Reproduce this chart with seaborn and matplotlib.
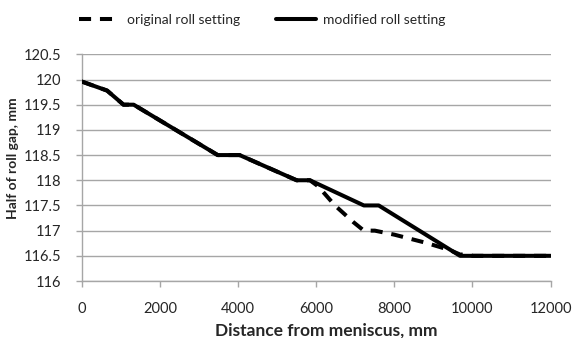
import seaborn as sns
import numpy as np
import pandas as pd
import matplotlib.pyplot as plt

orig_x = [0, 650, 1070, 1330, 3480, 4040, 5500, 5840, 6050, 6480, 6950, 7220, 7500, 8000, 8800, 9400, 9700, 9830, 10000, 12000]
orig_y = [119.96, 119.78, 119.5, 119.5, 118.5, 118.5, 118.0, 118.0, 117.88, 117.5, 117.17, 117.0, 117.0, 116.92, 116.76, 116.62, 116.52, 116.55, 116.5, 116.5]
mod_x = [0, 650, 1070, 1330, 3480, 4040, 5500, 5840, 7220, 7600, 9680, 12000]
mod_y = [119.96, 119.78, 119.5, 119.5, 118.5, 118.5, 118.0, 118.0, 117.5, 117.5, 116.5, 116.5]

df_orig = pd.DataFrame({'d': orig_x, 'gap': orig_y})
df_mod = pd.DataFrame({'d': mod_x, 'gap': mod_y})

sns.set_style('white')
plt.rcParams['font.family'] = ['Lato', 'DejaVu Sans']

fig = plt.figure(figsize=(5.73, 3.38), dpi=100)
ax = fig.add_axes([0.1426, 0.1686, 0.8184, 0.6707])

sns.lineplot(data=df_orig, x='d', y='gap', ax=ax, color='black', lw=2.9,
             linestyle=(0, (3, 2.2)), label='original roll setting', zorder=3)
sns.lineplot(data=df_mod, x='d', y='gap', ax=ax, color='black', lw=2.9,
             label='modified roll setting', zorder=4)

ax.set_xlim(0, 12000)
ax.set_ylim(116, 120.5)
ax.set_xticks(np.arange(0, 12001, 2000))
ax.set_yticks(np.arange(116, 120.51, 0.5))
ax.set_yticklabels(['116', '116.5', '117', '117.5', '118', '118.5', '119', '119.5', '120', '120.5'])
ax.yaxis.grid(True, color='#a6a6a6', lw=1)
ax.xaxis.grid(False)
for s in ['top', 'right']:
    ax.spines[s].set_visible(False)
for s in ['left', 'bottom']:
    ax.spines[s].set_color('#a6a6a6')
    ax.spines[s].set_linewidth(1)
ax.tick_params(axis='both', which='major', length=4, width=1, color='#a6a6a6',
               direction='out', labelsize=10.5, left=True, bottom=True)
ax.tick_params(axis='x', pad=11)
ax.tick_params(axis='y', pad=11)

ax.set_xlabel('Distance from meniscus, mm', fontsize=12.5, fontweight='bold')
ax.set_ylabel('Half of roll gap, mm', fontsize=10, fontweight='bold')
ax.xaxis.set_label_coords(0.522, -0.185)
ax.yaxis.set_label_coords(-0.134, 0.543)

ax.legend(loc='center', bbox_to_anchor=(0.458, 0.94), bbox_transform=fig.transFigure,
          ncol=2, frameon=False, fontsize=10, handlelength=2.9, handletextpad=0.5,
          columnspacing=2.6)

plt.savefig('out.png', dpi=100)
